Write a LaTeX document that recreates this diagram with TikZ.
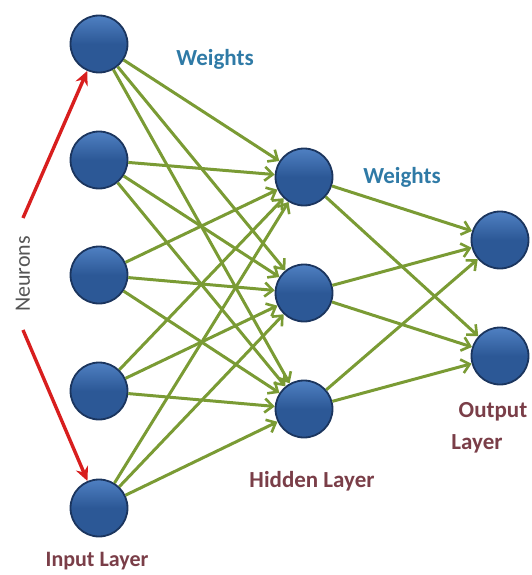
\documentclass[tikz,border=0pt]{standalone}
\usepackage{fontspec}
\setmainfont{Carlito}
\usetikzlibrary{arrows.meta}
\definecolor{neuronfill}{HTML}{2C5896}
\definecolor{neurontop}{HTML}{4F80C2}
\definecolor{neuronedge}{HTML}{1B355E}
\definecolor{wgreen}{HTML}{7A9B34}
\definecolor{wblue}{HTML}{2F7AA6}
\definecolor{lred}{HTML}{7A3E48}
\definecolor{nred}{HTML}{D81E1E}
\definecolor{ngray}{HTML}{555555}
\tikzset{
  neuron/.style={circle, minimum size=57pt, inner sep=0pt, draw=neuronedge, line width=1.8pt,
    top color=neurontop, bottom color=neuronfill, middle color=neuronfill},
  conn/.style={draw=wgreen, line width=3pt, -{Straight Barb[length=8pt,width=14pt,line width=2.6pt]}},
  redarrow/.style={draw=nred, line width=3.4pt, -{Stealth[length=14pt,width=13pt]}},
  wlabel/.style={text=wblue, font=\bfseries\fontsize{23}{26}\selectfont},
  llabel/.style={text=lred, font=\bfseries\fontsize{23}{26}\selectfont, align=center},
}
\begin{document}
\begin{tikzpicture}[x=1pt,y=-1pt]
\useasboundingbox (0,0) rectangle (532,575);
% input layer
\foreach \i/\y in {1/44,2/160,3/275,4/391,5/508}
  \node[neuron] (i\i) at (99,\y) {};
% hidden layer
\foreach \j/\y in {1/177,2/293,3/409}
  \node[neuron] (h\j) at (304,\y) {};
% output layer
\foreach \k/\y in {1/240,2/356}
  \node[neuron] (o\k) at (500,\y) {};
% connections
\foreach \i in {1,...,5}
  \foreach \j in {1,2,3}
    \draw[conn] (i\i) -- (h\j);
\foreach \j in {1,2,3}
  \foreach \k in {1,2}
    \draw[conn] (h\j) -- (o\k);
% labels
\node[wlabel] (w1) at (215,59) {Weights};
\node[wlabel] (w2) at (402,177) {Weights};
\node[llabel] (hl) at (312,481) {Hidden Layer};
\node[llabel] (ol) at (493,412) {Output};
\node[llabel] (ol2) at (477,444) {Layer};
\node[llabel, font=\bfseries\fontsize{22}{24}\selectfont] (il) at (97,561) {Input Layer};
\node[text=ngray, rotate=90, font=\fontsize{22}{24}\selectfont] (nr) at (23,274) {Neurons};
\coordinate (ra) at (23,218);
\coordinate (rb) at (23,330);
\draw[redarrow] (ra) -- (i1);
\draw[redarrow] (rb) -- (i5);
\end{tikzpicture}
\end{document}
